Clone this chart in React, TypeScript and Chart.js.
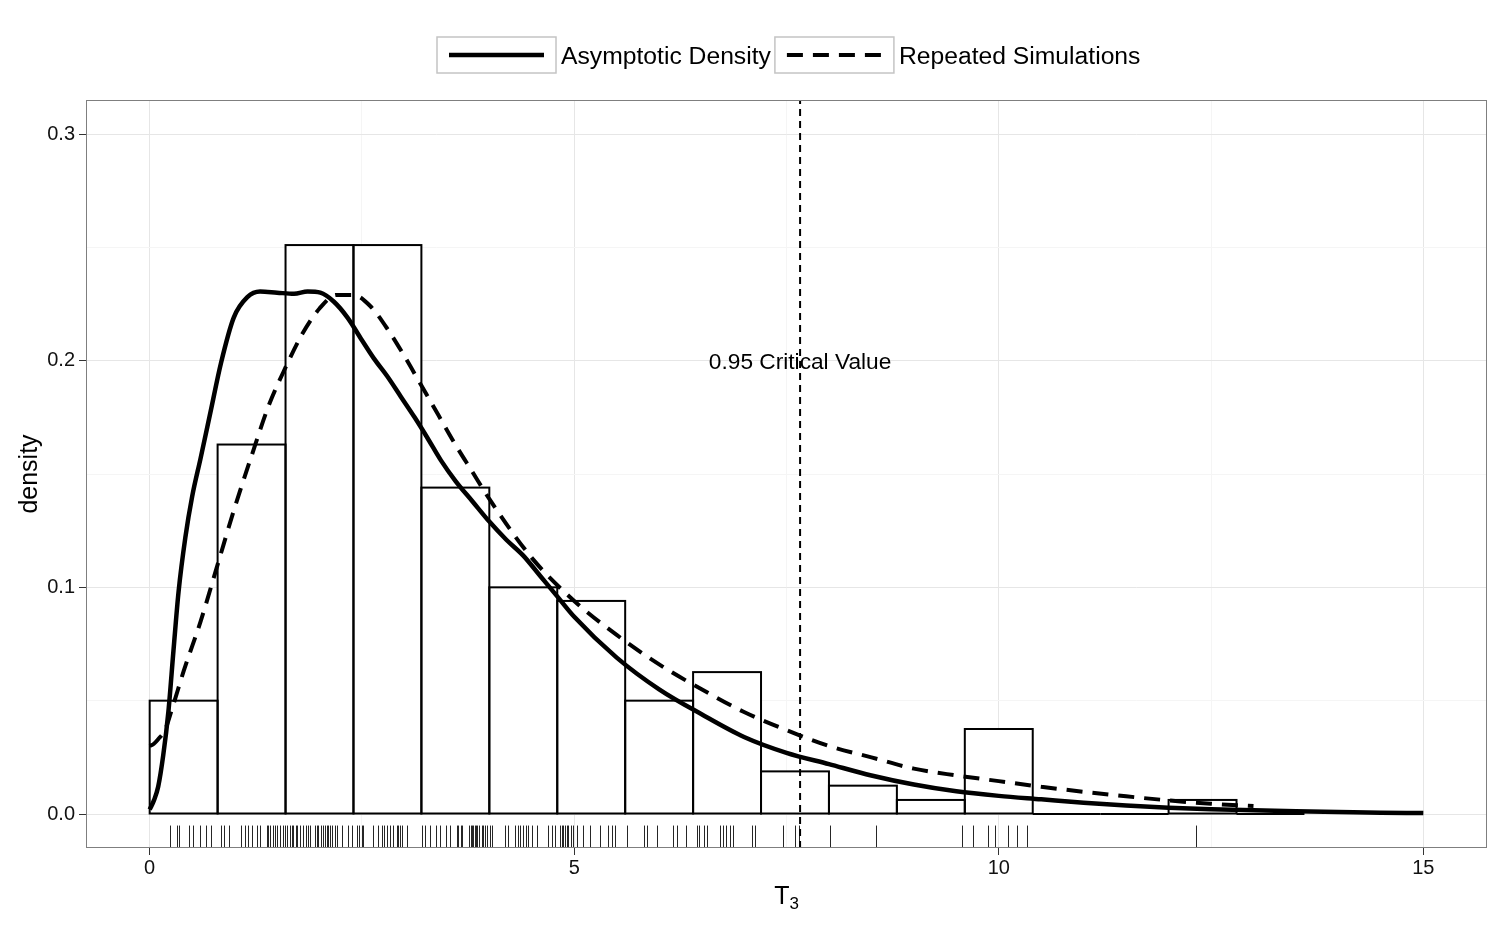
import React, { useEffect, useRef } from 'react';
import { Chart, registerables } from 'chart.js';

Chart.register(...registerables);

// ---------- data ----------
const BIN_STARTS = [0, 0.8, 1.6, 2.4, 3.2, 4.0, 4.8, 5.6, 6.4, 7.2, 8.0, 8.8, 9.6, 10.4, 11.2, 12.0, 12.8];
const BIN_WIDTH = 0.8;
const HIST_DENSITY = [0.050, 0.163, 0.251, 0.251, 0.144, 0.100, 0.094, 0.050, 0.0626, 0.0188, 0.0125, 0.0062, 0.0375, 0, 0, 0.0062, 0];

const ASYM_X = [0, 0.05, 0.1, 0.16, 0.22, 0.28, 0.34, 0.42, 0.5, 0.6, 0.72, 0.84, 0.99, 1.15, 1.3, 1.5, 1.7, 1.86, 2.01, 2.17, 2.33, 2.5, 2.64, 2.8, 2.96, 3.12, 3.27, 3.43, 3.6, 3.8, 4.0, 4.2, 4.4, 4.6, 4.8, 5.0, 5.5, 6.0, 6.5, 7.0, 7.5, 8.0, 8.5, 9.0, 9.5, 10.0, 10.5, 11.0, 11.5, 12.0, 12.5, 13.0, 13.5, 14.0, 14.5, 15.0];
const ASYM_Y = [0.002, 0.006, 0.012, 0.026, 0.045, 0.072, 0.098, 0.122, 0.14, 0.157, 0.178, 0.199, 0.219, 0.228, 0.2305, 0.230, 0.2295, 0.2305, 0.230, 0.226, 0.219, 0.209, 0.201, 0.193, 0.184, 0.175, 0.166, 0.156, 0.147, 0.138, 0.129, 0.121, 0.114, 0.105, 0.096, 0.087, 0.069, 0.055, 0.044, 0.034, 0.027, 0.022, 0.017, 0.013, 0.010, 0.008, 0.0065, 0.005, 0.0038, 0.0028, 0.0021, 0.0016, 0.0012, 0.0009, 0.0006, 0.0004];

const SIM_X = [0, 0.05, 0.1, 0.18, 0.26, 0.4, 0.6, 0.8, 1.0, 1.2, 1.4, 1.6, 1.8, 2.0, 2.2, 2.4, 2.6, 2.8, 3.0, 3.2, 3.4, 3.6, 3.8, 4.0, 4.5, 5.0, 5.5, 6.0, 6.5, 7.0, 7.5, 8.0, 8.5, 9.0, 9.5, 10.0, 10.5, 11.0, 11.5, 12.0, 12.5, 13.0];
const SIM_Y = [0.030, 0.031, 0.033, 0.037, 0.046, 0.063, 0.085, 0.110, 0.135, 0.158, 0.180, 0.197, 0.212, 0.223, 0.229, 0.229, 0.224, 0.214, 0.202, 0.189, 0.176, 0.163, 0.151, 0.139, 0.113, 0.094, 0.079, 0.066, 0.055, 0.045, 0.037, 0.030, 0.025, 0.020, 0.017, 0.0145, 0.012, 0.0098, 0.0078, 0.006, 0.0045, 0.0035];

const RUG = [
  0.239, 0.318, 0.349, 0.466, 0.514, 0.592, 0.663, 0.718,
  0.840, 0.875, 0.934, 1.075, 1.122, 1.154, 1.201, 1.260, 1.299, 1.378, 1.397, 1.417, 1.456, 1.476, 1.503, 1.535, 1.567,
  1.594, 1.621, 1.653, 1.673, 1.691, 1.720, 1.739, 1.770, 1.809, 1.837, 1.868, 1.888, 1.947, 1.967, 1.986, 2.014, 2.045, 2.065, 2.085, 2.104, 2.124, 2.144, 2.183, 2.203, 2.261, 2.339, 2.379,
  2.438, 2.469, 2.497, 2.516, 2.634, 2.693, 2.733, 2.760, 2.791, 2.830, 2.869, 2.909, 2.928, 2.948, 2.968, 3.027,
  3.204, 3.243, 3.302, 3.372, 3.419, 3.490, 3.537, 3.616, 3.635, 3.663, 3.675, 3.764, 3.781, 3.796, 3.812, 3.828, 3.843, 3.859, 3.882, 3.910, 3.929, 3.949, 3.969,
  4.008, 4.028, 4.185, 4.224, 4.303, 4.342, 4.362, 4.393, 4.432, 4.459, 4.499, 4.558, 4.695, 4.735, 4.774,
  4.833, 4.853, 4.872, 4.892, 4.912, 4.930, 4.959, 4.989, 5.029, 5.100, 5.186, 5.304, 5.402, 5.442, 5.481,
  5.618, 5.822, 5.854, 5.972, 6.167, 6.207, 6.317,
  6.443, 6.473, 6.529, 6.561, 6.717, 6.749, 6.788, 6.835, 6.867, 7.091, 7.130,
  7.463, 7.601, 7.648, 8.013, 8.555, 9.568, 9.697, 9.874, 9.956, 10.109, 10.215, 10.333, 12.324,
];

const CRITICAL_VALUE = 7.66;
const CRITICAL_LABEL = '0.95 Critical Value';
const CRITICAL_LABEL_Y = 0.2;

const SERIES_LABELS = ['Asymptotic Density', 'Repeated Simulations'];
const X_TITLE_MAIN = 'T';
const X_TITLE_SUB = '3';
const Y_TITLE = 'density';

const X_MIN = -0.75, X_MAX = 15.75;
const Y_MIN = -0.015, Y_MAX = 0.315;
const X_MAJOR_TICKS = [0, 5, 10, 15];
const X_MINOR_TICKS = [2.5, 7.5, 12.5];
const Y_MAJOR_TICKS = [0, 0.1, 0.2, 0.3];
const Y_TICK_LABELS = ['0.0', '0.1', '0.2', '0.3'];
const Y_MINOR_TICKS = [0.05, 0.15, 0.25];

// ---------- styles ----------
const FONT = "'Liberation Sans', Arial, Helvetica, sans-serif";
const GRID_MAJOR = '#E6E6E6';
const GRID_MINOR = '#F5F5F5';
const SOLID_W = 4.5;
const DASH_W = 4;
const DASH = [16, 10];

const near = (a: number, list: number[]) => list.findIndex((v) => Math.abs(v - a) < 1e-6);

const decorPlugin = {
  id: 'decor',
  afterDatasetDraw(chart: any, args: any) {
    if (args.meta.type !== 'bar') return;
    const ctx = chart.ctx;
    const { chartArea } = chart;
    ctx.save();
    // histogram outlines
    ctx.strokeStyle = '#000';
    ctx.lineWidth = 2;
    args.meta.data.forEach((el: any) => {
      const { x, y, base, width } = el.getProps(['x', 'y', 'base', 'width'], true);
      ctx.strokeRect(x - width / 2, y, width, base - y);
    });
    // rug
    const xs = chart.scales.x;
    const h = (chartArea.bottom - chartArea.top) * 0.03;
    ctx.strokeStyle = 'rgba(0,0,0,0.85)';
    ctx.lineWidth = 1;
    RUG.forEach((v) => {
      const px = Math.round(xs.getPixelForValue(v)) + 0.5;
      ctx.beginPath();
      ctx.moveTo(px, chartArea.bottom);
      ctx.lineTo(px, chartArea.bottom - h);
      ctx.stroke();
    });
    ctx.restore();
  },
  afterDraw(chart: any) {
    const ctx = chart.ctx;
    const { chartArea } = chart;
    const xs = chart.scales.x;
    const ys = chart.scales.y;
    ctx.save();
    // critical value label
    ctx.fillStyle = '#000';
    ctx.font = `22.7px ${FONT}`;
    ctx.textAlign = 'center';
    ctx.textBaseline = 'middle';
    ctx.fillText(CRITICAL_LABEL, xs.getPixelForValue(CRITICAL_VALUE), ys.getPixelForValue(CRITICAL_LABEL_Y) + 2);

    // panel border
    ctx.strokeStyle = '#7F7F7F';
    ctx.lineWidth = 1;
    ctx.strokeRect(chartArea.left + 0.5, chartArea.top + 0.5, chartArea.right - chartArea.left - 1, chartArea.bottom - chartArea.top - 1);

    // y title
    ctx.save();
    ctx.font = `25px ${FONT}`;
    ctx.textAlign = 'center';
    ctx.textBaseline = 'alphabetic';
    ctx.translate(37, (chartArea.top + chartArea.bottom) / 2);
    ctx.rotate(-Math.PI / 2);
    ctx.fillText(Y_TITLE, 0, 0);
    ctx.restore();

    // x title with subscript
    ctx.textAlign = 'left';
    ctx.textBaseline = 'alphabetic';
    ctx.font = `25px ${FONT}`;
    const wT = ctx.measureText(X_TITLE_MAIN).width;
    ctx.font = `17px ${FONT}`;
    const w3 = ctx.measureText(X_TITLE_SUB).width;
    const cx = (chartArea.left + chartArea.right) / 2;
    const sx = cx - (wT + w3) / 2;
    ctx.font = `25px ${FONT}`;
    ctx.fillText(X_TITLE_MAIN, sx, 904);
    ctx.font = `17px ${FONT}`;
    ctx.fillText(X_TITLE_SUB, sx + wT, 909);

    // legend
    const ds = chart.data.datasets;
    let lx = 437;
    const ly = 37, kw = 119, kh = 36;
    ctx.font = `24.7px ${FONT}`;
    ctx.textBaseline = 'middle';
    for (let i = 0; i < 2; i++) {
      const d = ds[i];
      ctx.strokeStyle = '#C4C4C4';
      ctx.lineWidth = 1.5;
      ctx.setLineDash([]);
      ctx.strokeRect(lx, ly, kw, kh);
      ctx.strokeStyle = '#000';
      ctx.lineWidth = d.borderWidth;
      ctx.setLineDash(d.borderDash || []);
      ctx.beginPath();
      ctx.moveTo(lx + 12, ly + kh / 2);
      ctx.lineTo(lx + kw - 12, ly + kh / 2);
      ctx.stroke();
      ctx.setLineDash([]);
      ctx.fillStyle = '#000';
      ctx.fillText(d.label, lx + kw + 5, ly + kh / 2 + 2);
      lx += kw + 5 + ctx.measureText(d.label).width + 4;
    }
    ctx.restore();
  },
};

export default function App() {
  const ref = useRef<HTMLCanvasElement | null>(null);
  useEffect(() => {
    document.body.style.margin = '0';
    const canvas = ref.current!;
    const chart = new Chart(canvas, {
      type: 'line',
      data: {
        datasets: [
          {
            type: 'line',
            label: SERIES_LABELS[0],
            data: ASYM_X.map((x, i) => ({ x, y: ASYM_Y[i] })),
            borderColor: '#000',
            borderWidth: SOLID_W,
            pointRadius: 0,
            tension: 0.4,
            cubicInterpolationMode: 'monotone',
            fill: false,
            order: 1,
          },
          {
            type: 'line',
            label: SERIES_LABELS[1],
            data: SIM_X.map((x, i) => ({ x, y: SIM_Y[i] })),
            borderColor: '#000',
            borderWidth: DASH_W,
            borderDash: DASH,
            pointRadius: 0,
            tension: 0.4,
            cubicInterpolationMode: 'monotone',
            fill: false,
            order: 2,
          },
          {
            type: 'line',
            label: 'critical',
            data: [
              { x: CRITICAL_VALUE, y: Y_MIN },
              { x: CRITICAL_VALUE, y: Y_MAX },
            ],
            borderColor: '#000',
            borderWidth: 2,
            borderDash: [7, 5],
            pointRadius: 0,
            fill: false,
            order: 3,
          },
          {
            type: 'bar',
            label: 'histogram',
            data: BIN_STARTS.map((s, i) => ({ x: s + BIN_WIDTH / 2, y: HIST_DENSITY[i] })),
            backgroundColor: '#FFFFFF',
            borderWidth: 0,
            barPercentage: 1,
            categoryPercentage: 1,
            order: 4,
          },
        ] as any,
      },
      options: {
        responsive: false,
        animation: false,
        events: [],
        layout: { padding: { top: 100, right: 13, left: 0, bottom: 0 } },
        plugins: { legend: { display: false }, tooltip: { enabled: false } },
        scales: {
          x: {
            type: 'linear',
            min: X_MIN,
            max: X_MAX,
            offset: false,
            afterFit: (s: any) => { s.height = 77; },
            afterBuildTicks: (s: any) => {
              s.ticks = [...X_MAJOR_TICKS, ...X_MINOR_TICKS].sort((a, b) => a - b).map((v) => ({ value: v }));
            },
            border: { display: false },
            grid: {
              offset: false,
              color: (c: any) => (near(c.tick?.value, X_MAJOR_TICKS) >= 0 ? GRID_MAJOR : GRID_MINOR),
              tickColor: (c: any) => (near(c.tick?.value, X_MAJOR_TICKS) >= 0 ? '#333' : 'rgba(0,0,0,0)'),
              tickLength: 7,
              lineWidth: 1,
            },
            ticks: {
              autoSkip: false,
              maxRotation: 0,
              padding: 1,
              color: '#111',
              font: { family: FONT, size: 20 },
              callback: (v: any) => (near(Number(v), X_MAJOR_TICKS) >= 0 ? String(v) : ''),
            },
          },
          y: {
            type: 'linear',
            min: Y_MIN,
            max: Y_MAX,
            afterFit: (s: any) => { s.width = 86; },
            afterBuildTicks: (s: any) => {
              s.ticks = [...Y_MAJOR_TICKS, ...Y_MINOR_TICKS].sort((a, b) => a - b).map((v) => ({ value: v }));
            },
            border: { display: false },
            grid: {
              offset: false,
              color: (c: any) => (near(c.tick?.value, Y_MAJOR_TICKS) >= 0 ? GRID_MAJOR : GRID_MINOR),
              tickColor: (c: any) => (near(c.tick?.value, Y_MAJOR_TICKS) >= 0 ? '#333' : 'rgba(0,0,0,0)'),
              tickLength: 7,
              lineWidth: 1,
            },
            ticks: {
              autoSkip: false,
              padding: 4,
              color: '#111',
              font: { family: FONT, size: 20 },
              callback: (v: any) => {
                const k = near(Number(v), Y_MAJOR_TICKS);
                return k >= 0 ? Y_TICK_LABELS[k] : '';
              },
            },
          },
        },
      },
      plugins: [decorPlugin],
    } as any);
    return () => chart.destroy();
  }, []);
  return <canvas ref={ref} width={1500} height={925} style={{ display: 'block' }} />;
}
